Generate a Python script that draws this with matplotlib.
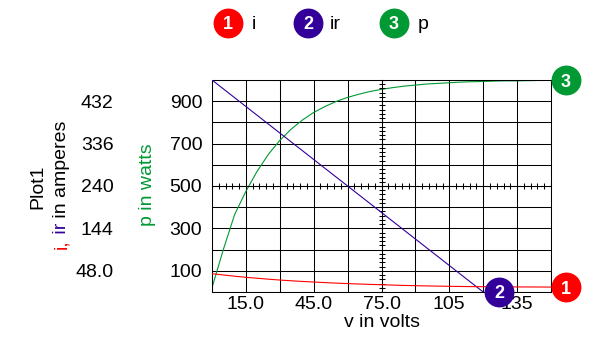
import matplotlib
matplotlib.use("Agg")
import matplotlib.pyplot as plt
import numpy as np
from matplotlib.transforms import offset_copy

plt.rcParams['font.family'] = ['Liberation Sans', 'DejaVu Sans']

# data
v = [0, 5, 10, 15, 20, 25, 30, 35, 40, 45, 50, 55, 60, 65, 70, 75,
     80, 85, 90, 95, 100, 105, 110, 115, 120, 125, 130, 135, 140, 145, 150]
p = [20, 200, 365, 475, 570, 650, 715, 768, 811, 847, 875, 899, 918, 933, 946, 956,
     964, 971, 976, 981, 984, 987, 990, 992, 993, 995, 996, 996, 997, 998, 998]
i = [41.5, 38.5, 35.8, 33.3, 31.1, 29.0, 27.1, 25.4, 23.9, 22.6, 21.3, 20.1, 19.0, 18.1,
     17.2, 16.5, 15.6, 14.9, 14.3, 13.8, 13.3, 12.9, 12.5, 12.2, 12.0, 11.8, 11.6, 11.5,
     11.4, 11.3, 11.2]
v_ir = [0, 30, 60, 90, 120]
ir = [480, 360, 240, 120, 0]

x_ticks = [0, 15, 30, 45, 60, 75, 90, 105, 120, 135, 150]
x_labels = ['', '15.0', '', '45.0', '', '75.0', '', '105', '', '135', '']
p_ticks = [0, 100, 200, 300, 400, 500, 600, 700, 800, 900, 1000]
p_labels = ['', '100', '', '300', '', '500', '', '700', '', '900', '']
a_ticks = [48, 144, 240, 336, 432]
a_labels = ['48.0', '144', '240', '336', '432']

RED = '#ff0000'
PURPLE = '#330099'
GREEN = '#009933'

W, H = 611, 359
fig = plt.figure(figsize=(W / 100, H / 100), dpi=100)
pos = [212 / W, 1 - 292 / H, 339 / W, 212 / H]

ax = fig.add_axes(pos)
ax.set_xlim(0, 150)
ax.set_ylim(0, 1000)
ax.set_xticks(x_ticks)
ax.set_xticklabels(x_labels)
ax.set_yticks(p_ticks)
ax.set_yticklabels(p_labels)
ax.tick_params(axis='both', length=0, labelsize=14)
ax.tick_params(axis='y', pad=7)
ax.tick_params(axis='x', pad=3)
ax.grid(True, color='black', linewidth=0.75)
for s in ax.spines.values():
    s.set_linewidth(0.75)
ax.set_xlabel('v in volts', fontsize=14, labelpad=0.5)
ax.plot(v, p, color=GREEN, linewidth=0.8)

# cross axes through the middle of the plot
axc = fig.add_axes(pos)
axc.patch.set_visible(False)
axc.set_xlim(0, 150)
axc.set_ylim(0, 1000)
axc.spines['top'].set_visible(False)
axc.spines['right'].set_visible(False)
axc.spines['left'].set_position(('data', 75))
axc.spines['bottom'].set_position(('data', 500))
axc.spines['left'].set_linewidth(0.75)
axc.spines['bottom'].set_linewidth(0.75)
axc.set_xticks(np.arange(0, 151, 3))
axc.set_yticks(np.arange(0, 1001, 20))
axc.tick_params(axis='both', direction='inout', length=5, width=0.75,
                labelleft=False, labelbottom=False)

# amperes axis
ax2 = fig.add_axes(pos)
ax2.patch.set_visible(False)
ax2.set_xlim(0, 150)
ax2.set_ylim(0, 480)
for s in ax2.spines.values():
    s.set_visible(False)
ax2.set_xticks([])
ax2.set_yticks(a_ticks)
ax2.set_yticklabels(a_labels)
ax2.tick_params(axis='y', length=0, pad=71, labelsize=14)
ax2.plot(v_ir, ir, color=PURPLE, linewidth=0.8)
ax2.plot(v, i, color=RED, linewidth=0.8)


def badge(axis, x, y, num, color, transform):
    axis.plot([x], [y], 'o', markersize=20.5, color=color, transform=transform,
              clip_on=False, zorder=10)
    axis.text(x, y, num, color='white', fontsize=13, fontweight='bold', ha='center',
              va='center_baseline', transform=transform, clip_on=False, zorder=11)


# end-of-line badges
badge(ax2, v[-1], i[-1], '1', RED, offset_copy(ax2.transData, fig, x=15, y=0, units='dots'))
badge(ax2, v_ir[-1], ir[-1], '2', PURPLE, offset_copy(ax2.transData, fig, x=16, y=0, units='dots'))
badge(ax, v[-1], p[-1], '3', GREEN, offset_copy(ax.transData, fig, x=15, y=0, units='dots'))

# legend across the top
axl = fig.add_axes([0, 0, 1, 1])
axl.set_xlim(0, W)
axl.set_ylim(H, 0)
axl.axis('off')
for cx, lx, num, name, col in [(228, 252, '1', 'i', RED),
                                (308, 330, '2', 'ir', PURPLE),
                                (394, 418, '3', 'p', GREEN)]:
    badge(axl, cx, 22.5, num, col, axl.transData)
    axl.text(lx, 22.5, name, fontsize=14, ha='left', va='center_baseline')

# axis titles
fig.text(148 / W, 1 - 185 / H, 'p in watts', color=GREEN, fontsize=14,
         rotation=90, ha='center', va='center')
fig.text(38 / W, 1 - 187 / H, 'Plot1', fontsize=14, rotation=90, ha='center', va='center')
t1 = fig.text(62 / W, 1 - 249 / H, 'i,', color=RED, fontsize=14,
              rotation=90, ha='center', va='bottom')
t2 = axl.annotate(' ir', xy=(0.5, 1), xycoords=t1, color=PURPLE, fontsize=14,
                  rotation=90, ha='center', va='bottom')
axl.annotate(' in amperes', xy=(0.5, 1), xycoords=t2, color='black', fontsize=14,
             rotation=90, ha='center', va='bottom')

fig.savefig('out.png', dpi=100)
